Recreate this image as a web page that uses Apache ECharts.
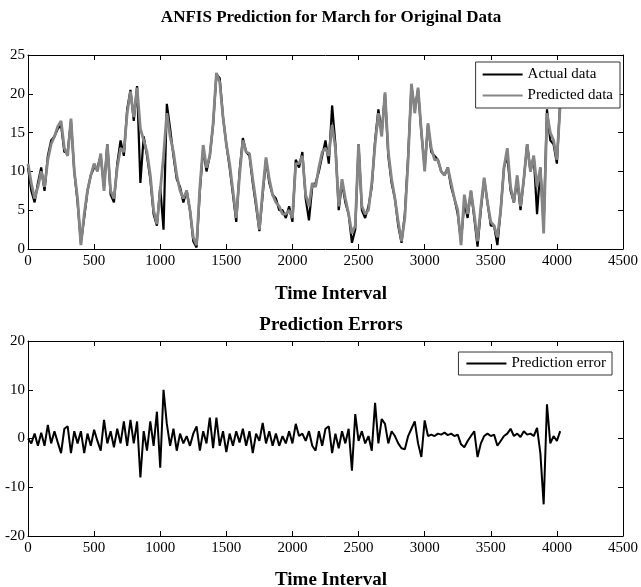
<!DOCTYPE html>
<html>
<head>
<meta charset="utf-8">
<script src="https://cdn.jsdelivr.net/npm/echarts@6/dist/echarts.min.js"></script>
<style>
  html, body { margin: 0; padding: 0; background: #fff; }
  #main { width: 641px; height: 587px; }
</style>
</head>
<body>
<div id="main"></div>
<script>
// sample spacing (time units) of the values below
var STEP = 25;

// actual data (black), t = 0, 25, 50 ...
var actualData = [
  10.5, 7.5, 6, 8.5, 10.5, 7.5, 12, 14, 14.5, 15.5, 16, 12.5, 12.5, 16.5, 10, 6, 0.8,
  4, 7.5, 9.5, 10.5, 10.5, 12, 8, 13.5, 7, 6, 11, 14, 12, 18, 20.5, 16.5, 21, 8.5,
  14.5, 12, 9, 4.5, 3, 8, 2.5, 18.7, 15.5, 12, 9, 8, 6, 7.5, 5, 1, 0.2,
  7.5, 13, 10, 12, 16, 22.5, 22, 17, 13.5, 10.5, 7, 3.5, 10, 14.3, 12.5, 12, 8.5, 5.5, 2.3,
  7, 11.5, 8.5, 7, 6.5, 5, 5, 4, 5.5, 3.5, 11.5, 10.5, 12.5, 6.5, 3.7, 8, 8.5, 10, 12, 14, 11,
  18.5, 13.5, 5, 8.5, 6, 4.5, 0.8, 2.5, 13.5, 5, 4, 5.5, 8, 14, 18, 15, 20, 12, 8.5, 6.5,
  3, 0.8, 4.5, 12, 21, 18, 20.5, 15, 10.5, 16, 12.5, 12, 11.5, 10, 9.5, 10.5, 8, 6.5, 4.5,
  1, 6, 4, 7.5, 4, 0.3, 5, 9, 6, 3, 3, 0.5, 5, 10.5, 12, 7.5, 6, 9, 5, 9, 13.5, 10, 12,
  4.5, 10.5, 3, 18, 14, 13.5, 11, 19
];

// predicted data (grey)
var predictedData = [
  11, 8.5, 6.5, 8, 10, 8, 11.5, 13.5, 14.5, 15.8, 16.5, 13, 12, 16.8, 10, 6.5, 0.5,
  4.5, 7.5, 9.5, 11, 10, 12.3, 7.5, 13.5, 7.5, 6.5, 10.5, 13, 12.5, 17.5, 20.3, 17, 20.8, 15.5,
  14, 12.5, 9.5, 5, 3.2, 7.5, 12, 17.5, 14.5, 12.5, 9.5, 7.5, 6.5, 7.5, 5, 1.5, 0.5,
  8, 13.4, 10.5, 12, 16.2, 22.7, 21.5, 17, 13.5, 11, 7.5, 4, 9.5, 14, 12.5, 12.3, 9, 6, 2.5,
  7.5, 11.8, 9, 7, 6, 5.5, 4.5, 4.5, 5, 4, 11, 11, 12, 7, 5.5, 8.5, 8, 10.5, 12.5, 13, 12,
  16, 13, 5.5, 9, 6.5, 4.5, 2, 3, 13.5, 5.5, 4.5, 5, 8.5, 13.5, 17.5, 14.5, 20.2, 12.5, 9, 6.5,
  3.5, 1, 4, 11.5, 21.3, 17.5, 20.8, 15.2, 10, 16.2, 13, 11.5, 11.5, 10, 9.5, 10.5, 8.5, 6.5, 5,
  0.5, 7, 4.5, 7.5, 4.5, 1, 5.5, 9.2, 6, 3.5, 3, 1.5, 5, 10.5, 13, 8, 6, 9.5, 5.5, 9, 13.5, 10, 12,
  8, 10.5, 2, 17.5, 15, 14, 11.5, 18.5
];

// prediction error
var errorData = [
  0, -1, 1, -1.5, 1.2, -1.5, 2.8, -1, 1.5, -0.8, -3, 2, 2.5, -3, 1.5, -1, 1.5,
  -3, 1, -1.5, 1.8, -0.5, -2.5, 3.8, -1, 1.5, -1.8, 2, -1, 3.5, -1.5, 3.8, -1, 3.5, -8,
  1.5, -2.5, 3.5, -1.5, 5.5, -6, 10, 3, -1.5, 2, -2.5, 1, -1, 0.5, -1.5, 1, 2.5,
  -2.5, 1.5, -1, 4.3, -2, 4.3, -1.5, 1.5, -2.8, 1, -1.5, 1.5, -0.8, 2, -1.5, 1.5, -3, 1, -0.5,
  3.2, -1, 1.5, -1.5, 1, -1.5, 0.5, -1, 1.5, -1, 3, 0.5, 1, -0.5, 1.5, -1.5, -2.5, 1.5, -1.5, 2, 2.5,
  -3, 1, -2, 1.5, -1, 2, -6.6, 5, -0.5, 1.5, -1, 0.5, -2.5, 7.3, -1, 4, 3, -1, 1.5, 0.5,
  -1, -2, -2.2, 0.5, 2, 3.5, -1, -3.8, 3.7, 0.5, 0.8, 0.5, 1, 0.8, 1.2, 0.7, 1, 0.5, 0.8,
  -1.2, -1.8, -0.5, 0.5, 1.5, -3.8, -1, 0.5, 1, 0.5, 0.8, -1.5, -0.5, 0.5, 1, 2, 0.5, 1, 0.3, 1.5, 0.8, 1,
  0.5, 2.2, -3, -13.5, 7, -1, 0.5, -0.5, 1.5
];

var xTicks = { min: 0, max: 4500, interval: 500 };

function pairs(arr) {
  return arr.map(function (v, i) { return [i * STEP, v]; });
}

var FONT = 'Liberation Serif';

// plain numbers, no thousands separator
function plain(v) { return String(v); }

function xAxisOf(grid, showLabel) {
  return {
    type: 'value', gridIndex: grid, position: showLabel ? 'bottom' : 'top',
    min: xTicks.min, max: xTicks.max, interval: xTicks.interval,
    axisLine: { show: true, onZero: false, lineStyle: { color: '#000', width: 1 } },
    axisTick: { show: true, inside: true, length: 5, lineStyle: { color: '#000' } },
    axisLabel: { show: showLabel, color: '#000', fontFamily: FONT, fontSize: 15, margin: 5, formatter: plain },
    splitLine: { show: false }
  };
}

function yAxisOf(grid, min, max, interval, showLabel) {
  return {
    type: 'value', gridIndex: grid, position: showLabel ? 'left' : 'right',
    min: min, max: max, interval: interval,
    axisLine: { show: true, onZero: false, lineStyle: { color: '#000', width: 1 } },
    axisTick: { show: true, inside: true, length: 5, lineStyle: { color: '#000' } },
    axisLabel: { show: showLabel, color: '#000', fontFamily: FONT, fontSize: 15, margin: 3, formatter: plain },
    splitLine: { show: false }
  };
}

var titleStyle = { color: '#000', fontFamily: FONT, fontWeight: 'bold', fontSize: 19 };

var chart = echarts.init(document.getElementById('main'));

var option = {
  animation: false,
  backgroundColor: '#fff',
  title: [
    { text: 'ANFIS Prediction for March for Original Data', left: 326, top: 4, textAlign: 'center',
      textStyle: { color: '#000', fontFamily: FONT, fontWeight: 'bold', fontSize: 17 } },
    { text: 'Time Interval', left: 326, top: 280, textAlign: 'center', textStyle: titleStyle },
    { text: 'Prediction Errors', left: 326, top: 311, textAlign: 'center', textStyle: titleStyle },
    { text: 'Time Interval', left: 326, top: 566, textAlign: 'center', textStyle: titleStyle }
  ],
  grid: [
    { left: 28, top: 55, width: 597, height: 194 },
    { left: 28, top: 341, width: 597, height: 195 }
  ],
  legend: [
    {
      data: [
        { name: 'Actual data', icon: 'rect' },
        { name: 'Predicted data', icon: 'rect' }
      ],
      orient: 'vertical', right: 21, top: 62,
      itemWidth: 40, itemHeight: 2, itemGap: 6, itemTextGap: 5,
      padding: [5, 7, 5, 7],
      backgroundColor: '#fff', borderColor: '#333', borderWidth: 1,
      textStyle: { color: '#000', fontFamily: FONT, fontSize: 15 }
    },
    {
      data: [{ name: 'Prediction error', icon: 'rect' }],
      orient: 'vertical', right: 29, top: 352,
      itemWidth: 40, itemHeight: 2, itemTextGap: 5,
      padding: [4, 6, 4, 8],
      backgroundColor: '#fff', borderColor: '#333', borderWidth: 1,
      textStyle: { color: '#000', fontFamily: FONT, fontSize: 15 }
    }
  ],
  xAxis: [xAxisOf(0, true), xAxisOf(0, false), xAxisOf(1, true), xAxisOf(1, false)],
  yAxis: [
    yAxisOf(0, 0, 25, 5, true), yAxisOf(0, 0, 25, 5, false),
    yAxisOf(1, -20, 20, 10, true), yAxisOf(1, -20, 20, 10, false)
  ],
  series: [
    {
      name: 'Actual data', type: 'line', xAxisIndex: 0, yAxisIndex: 0,
      data: pairs(actualData), showSymbol: false, color: '#000',
      lineStyle: { color: '#000', width: 2.2 }, z: 2
    },
    {
      name: 'Predicted data', type: 'line', xAxisIndex: 0, yAxisIndex: 0,
      data: pairs(predictedData), showSymbol: false, color: '#858585',
      lineStyle: { color: '#858585', width: 2.8 }, z: 3
    },
    {
      name: 'Prediction error', type: 'line', xAxisIndex: 2, yAxisIndex: 2,
      data: pairs(errorData), showSymbol: false, color: '#000',
      lineStyle: { color: '#000', width: 2 }, z: 2
    }
  ]
};

chart.setOption(option);
</script>
</body>
</html>
